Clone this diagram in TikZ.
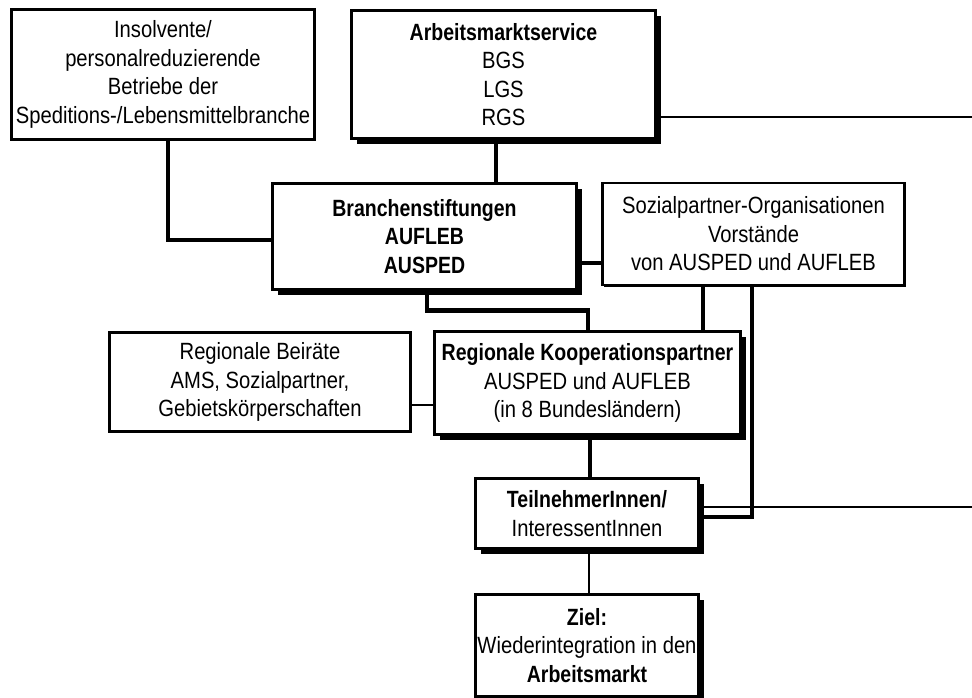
\documentclass[tikz,border=0pt]{standalone}
\usepackage{fontspec}
\setmainfont{Liberation Sans}[FakeStretch=0.86, BoldFeatures={FakeStretch=0.83}]
\usetikzlibrary{calc,shadows}
\tikzset{
  box/.style={draw=black, fill=white, rectangle, inner sep=0pt, align=center,
    line width=2.6pt, font=\fontsize{23.5}{28.5}\selectfont,
    drop shadow={shadow xshift=1.5pt, shadow yshift=-1.5pt, fill=black, opacity=1}},
  boldbox/.style={box, line width=3.2pt,
    drop shadow={shadow xshift=5pt, shadow yshift=-5pt, fill=black, opacity=1}},
  thickline/.style={line width=4.6pt},
  thinline/.style={line width=2pt}
}
\begin{document}
\begin{tikzpicture}[x=1pt,y=-1pt]
\useasboundingbox (0,0) rectangle (972,697);
\coordinate (rim) at (972,0);
\node[box, minimum width=303pt, minimum height=130pt] (ins) at (163,74.5)
  {Insolvente/\\personalreduzierende\\Betriebe der\\Speditions-/Lebensmittelbranche};
\node[boldbox, minimum width=304pt, minimum height=128pt] (ams) at (503.5,74.5)
  {\textbf{Arbeitsmarktservice}\\BGS\\LGS\\RGS};
\node[boldbox, minimum width=304pt, minimum height=106pt] (bra) at (424.5,236.5)
  {\textbf{Branchenstiftungen}\\\textbf{AUFLEB}\\\textbf{AUSPED}};
\node[box, minimum width=302pt, minimum height=102pt] (soz) at (753.5,234)
  {Sozialpartner-Organisationen\\Vorstände\\von AUSPED und AUFLEB};
\node[box, minimum width=301.5pt, minimum height=99.5pt] (bei) at (260,382)
  {Regionale Beiräte\\AMS, Sozialpartner,\\Gebietskörperschaften};
\node[boldbox, minimum width=306pt, minimum height=103pt] (koop) at (587.5,383)
  {\textbf{Regionale Kooperationspartner}\\AUSPED und AUFLEB\\(in 8 Bundesländern)};
\node[boldbox, minimum width=223pt, minimum height=70pt] (tn) at (587,513.5)
  {\textbf{TeilnehmerInnen/}\\InteressentInnen};
\node[boldbox, minimum width=223pt, minimum height=102pt] (ziel) at (587,645.5)
  {\textbf{Ziel:}\\Wiederintegration in den\\\textbf{Arbeitsmarkt}};
% connectors
\draw[thickline] ($(ins.south)+(5,0)$) |- ($(bra.west)+(0,3.5)$);
\draw[thickline] (ams.south) ++(-7.5,0) coordinate (a0) -- (a0 |- bra.north);
\draw[thickline] (bra.east) ++(0,26.5) coordinate (b0) -- (b0 -| soz.west);
\draw[thickline] ($(bra.south)+(2.5,0)$) |- ($(koop.north)+(0.5,-19.5)$) -- ($(koop.north)+(0.5,0)$);
\draw[thickline] (soz.south) ++(-50.5,0) coordinate (s1) -- (s1 |- koop.north);
\draw[thickline] ($(soz.south)+(-1.5,0)$) |- ($(tn.east)+(0,3.5)$);
\draw[thinline] (bei.east) ++(0,23) coordinate (e1) -- (e1 -| koop.west);
\draw[thickline] (koop.south) ++(2.5,0) coordinate (k1) -- (k1 |- tn.north);
\draw[thinline] (tn.south) ++(2,0) coordinate (t1) -- (t1 |- ziel.north);
\draw[thinline] (ams.east) ++(0,42.5) coordinate (a1) -- (a1 -| rim);
\draw[thinline] (tn.east) ++(0,-6.5) coordinate (t2) -- (t2 -| rim);
\end{tikzpicture}
\end{document}
